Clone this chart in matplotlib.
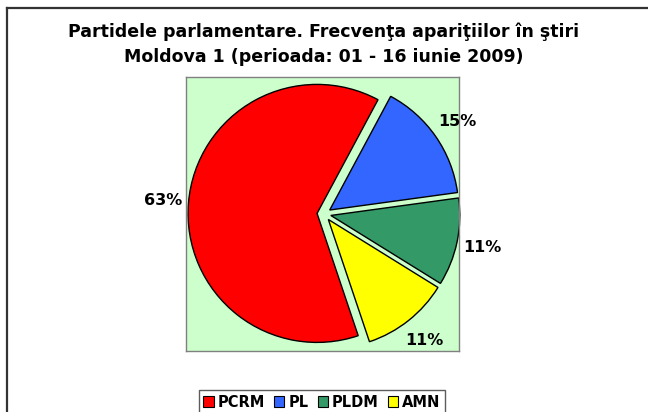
import matplotlib
matplotlib.use("Agg")
import matplotlib.pyplot as plt
from matplotlib.patches import Patch
from matplotlib.lines import Line2D

title_lines = ["Partidele parlamentare. Frecvenţa apariţiilor în ştiri",
               "Moldova 1 (perioada: 01 - 16 iunie 2009)"]
categories = ["PCRM", "PL", "PLDM", "AMN"]
values = [63, 15, 11, 11]
colors = ["#FF0000", "#3366FF", "#339966", "#FFFF00"]

W, H = 648, 412
fig = plt.figure(figsize=(W / 100, H / 100), dpi=100)
fig.patch.set_facecolor("white")

# outer chart border (left and top visible)
fig.add_artist(Line2D([7 / W, 1.0], [1 - 8 / H, 1 - 8 / H], color="#333333", lw=1.6,
                      transform=fig.transFigure))
fig.add_artist(Line2D([7 / W, 7 / W], [0, 1 - 8 / H], color="#333333", lw=1.6,
                      transform=fig.transFigure))

# plot area
x0, x1, y0, y1 = 186, 459, 77, 351
ax = fig.add_axes([x0 / W, 1 - y1 / H, (x1 - x0) / W, (y1 - y0) / H])

r_px = 129.0
cx_px, cy_px = 324.0, 214.0
xl = ((x0 - cx_px) / r_px, (x1 - cx_px) / r_px)
yl = ((cy_px - y1) / r_px, (cy_px - y0) / r_px)

wedges, texts, autotexts = ax.pie(
    values, colors=colors, startangle=-71.4, counterclock=False,
    explode=[0.054] * len(values), autopct="%.0f%%", pctdistance=1.2,
    wedgeprops=dict(edgecolor="black", linewidth=1.0),
    textprops=dict(fontsize=11.5, fontweight="bold", color="black"),
    frame=True,
)
ax.set_xlim(*xl)
ax.set_ylim(*yl)
ax.set_aspect("auto")
ax.set_facecolor("#CCFFCC")
for s in ax.spines.values():
    s.set_visible(True)
    s.set_color("#808080")
    s.set_linewidth(1.0)
ax.set_xticks([])
ax.set_yticks([])

fig.text(0.5, 1 - 32 / H, title_lines[0], ha="center", va="center",
         fontsize=12.5, fontweight="bold")
fig.text(0.5, 1 - 57 / H, title_lines[1], ha="center", va="center",
         fontsize=12.5, fontweight="bold")

handles = [Patch(facecolor=c, edgecolor="black", linewidth=0.8) for c in colors]
leg = fig.legend(handles, categories, loc="upper center",
                 bbox_to_anchor=(322 / W, 1 - 383 / H), ncol=4, frameon=True,
                 fancybox=False, edgecolor="#333333", handlelength=0.7,
                 handleheight=0.7, handletextpad=0.3, columnspacing=0.6,
                 borderpad=0.3, prop=dict(size=10.5, weight="bold"))
leg.get_frame().set_linewidth(1.0)

fig.savefig("out.png", dpi=100)
